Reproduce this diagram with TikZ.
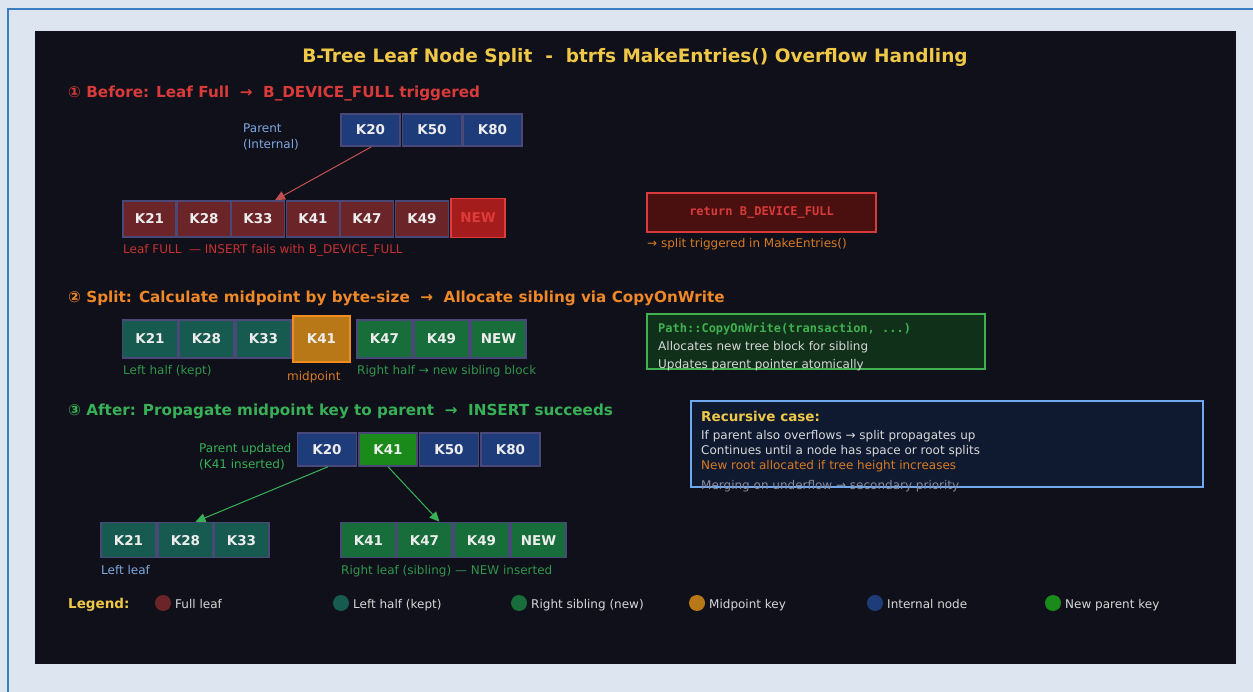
\documentclass[tikz,border=0pt]{standalone}
\usepackage{fontspec}
\setmainfont{DejaVu Sans}
\setmonofont{DejaVu Sans Mono}
\usetikzlibrary{arrows.meta}
\definecolor{bglight}{HTML}{DDE6F0}
\definecolor{frameblue}{HTML}{3A7EC0}
\definecolor{panel}{HTML}{0F1019}
\definecolor{titley}{HTML}{F0C848}
\definecolor{redh}{HTML}{D93A3A}
\definecolor{keyb}{HTML}{4A4878}
\definecolor{intfill}{HTML}{1F3C7A}
\definecolor{fullfill}{HTML}{6B2428}
\definecolor{newfill}{HTML}{A51C1C}
\definecolor{newbord}{HTML}{E03A3A}
\definecolor{tealfill}{HTML}{175A50}
\definecolor{rgreen}{HTML}{186E3A}
\definecolor{midfill}{HTML}{B87818}
\definecolor{midbord}{HTML}{F08C20}
\definecolor{npgreen}{HTML}{1A8A1A}
\definecolor{orangeh}{HTML}{F08828}
\definecolor{greenh}{HTML}{38B058}
\definecolor{lblue}{HTML}{80A8E0}
\definecolor{txtgray}{HTML}{D8D8D8}
\definecolor{dimgray}{HTML}{8A8A9A}
\definecolor{retfill}{HTML}{4A1010}
\definecolor{cowfill}{HTML}{10301A}
\definecolor{cowbord}{HTML}{40B050}
\definecolor{recfill}{HTML}{0F1A30}
\definecolor{recbord}{HTML}{70A8F0}
\definecolor{keytxt}{HTML}{EDEDED}
\definecolor{arrred}{HTML}{C05050}
\definecolor{lblred}{HTML}{C83232}
\begin{document}
\begin{tikzpicture}[x=1pt,y=-1pt,
  key/.style={draw=keyb, line width=1.5pt, inner sep=0pt, minimum width=#1, minimum height=34pt,
    text height=10pt, text depth=0pt,
    font=\fontsize{13.5}{15}\selectfont\bfseries, text=keytxt},
  key/.default=53pt,
  lbl/.style={anchor=west, inner sep=0pt, text height=11pt, text depth=1pt, font=\fontsize{12}{16}\selectfont},
  head/.style={anchor=west, inner sep=0pt, yshift=-2pt, font=\fontsize{15.2}{18}\selectfont\bfseries},
  link/.style={line width=1pt, -{Triangle[length=10pt,width=9pt]}},
  legdot/.style={circle, inner sep=0pt, minimum size=16pt}
]
\useasboundingbox (0,0) rectangle (1253,692);
\fill[bglight] (0,0) rectangle (1253,692);
\draw[frameblue, line width=2pt] (8,700) -- (8,9) -- (1260,9);
\fill[panel] (35,31) rectangle (1236,664);

\node[anchor=center, inner sep=0pt, text=titley, font=\fontsize{18.5}{22}\selectfont\bfseries] (title) at (635,57)
  {B-Tree Leaf Node Split\ \ -\ \ btrfs MakeEntries() Overflow Handling};

% ---------- Section 1 ----------
\node[head, text=redh] (h1) at (68,92) {① Before: Leaf Full\ \ →\ \ B\_DEVICE\_FULL triggered};
\node[lbl, text=lblue, align=left, text height=, text depth=] (par1lbl) at (243,137) {Parent\\(Internal)};
\node[key=59pt, minimum height=32pt, fill=intfill] (p1k20) at (370.5,130) {K20};
\node[key=59pt, minimum height=32pt, fill=intfill] (p1k50) at (432,130) {K50};
\node[key=59pt, minimum height=32pt, fill=intfill] (p1k80) at (492.5,130) {K80};

\node[key, minimum height=36pt, fill=fullfill] (a21) at (149.5,219) {K21};
\node[key, minimum height=36pt, fill=fullfill] (a28) at (204,219) {K28};
\node[key, minimum height=36pt, fill=fullfill] (a33) at (258,219) {K33};
\node[key, minimum height=36pt, fill=fullfill] (a41) at (313,219) {K41};
\node[key, minimum height=36pt, fill=fullfill] (a47) at (367,219) {K47};
\node[key, minimum height=36pt, fill=fullfill] (a49) at (422,219) {K49};
\node[key=54pt, minimum height=39pt, fill=newfill, draw=newbord, text=newbord] (anew) at (478,218) {NEW};
\draw[link, draw=arrred, fill=arrred] ([xshift=1pt]p1k20.south) -- ([xshift=17pt]a33.north);
\node[lbl, text=lblred] (l1) at (123,249) {Leaf FULL\ \ — INSERT fails with B\_DEVICE\_FULL};

\node[draw=redh, line width=1.5pt, fill=retfill, minimum width=229pt, minimum height=39pt, inner sep=0pt,
  text=redh, font=\ttfamily\fontsize{12}{14}\selectfont\bfseries] (ret) at (761.5,212.5) {return B\_DEVICE\_FULL};
\node[lbl, text=orangeh!90!black] (retnote) at (647,243) {→ split triggered in MakeEntries()};

% ---------- Section 2 ----------
\node[head, text=orangeh] (h2) at (68,296) {② Split: Calculate midpoint by byte-size\ \ →\ \ Allocate sibling via CopyOnWrite};
\node[key=55pt, minimum height=38pt, fill=tealfill] (b21) at (150,339) {K21};
\node[key=55pt, minimum height=38pt, fill=tealfill] (b28) at (206.5,339) {K28};
\node[key=55pt, minimum height=38pt, fill=tealfill] (b33) at (263.5,339) {K33};
\node[key=57pt, minimum height=46pt, fill=midfill, draw=midbord] (b41) at (321.5,339) {K41};
\node[key=55pt, minimum height=38pt, fill=rgreen] (b47) at (384.5,339) {K47};
\node[key=55pt, minimum height=38pt, fill=rgreen] (b49) at (441.5,339) {K49};
\node[key=55pt, minimum height=38pt, fill=rgreen] (bnew) at (498.5,339) {NEW};
\node[lbl, text=greenh!85!black] (l2a) at (123,370) {Left half (kept)};
\node[lbl, text=orangeh!90!black] (l2b) at (287,376) {midpoint};
\node[lbl, text=greenh!85!black] (l2c) at (357,370) {Right half → new sibling block};

\draw[cowbord, line width=1.5pt, fill=cowfill] (647,314) rectangle (985,369);
\node[lbl, text=cowbord, font=\ttfamily\fontsize{12}{14}\selectfont\bfseries] (cow1) at (658,328) {Path::CopyOnWrite(transaction, ...)};
\node[lbl, text=txtgray] (cow2) at (658,346) {Allocates new tree block for sibling};
\node[lbl, text=txtgray] (cow3) at (658,364) {Updates parent pointer atomically};

% ---------- Section 3 ----------
\node[head, text=greenh] (h3) at (68,409) {③ After: Propagate midpoint key to parent\ \ →\ \ INSERT succeeds};
\node[lbl, text=greenh, align=left, text height=, text depth=] (par3lbl) at (199,457) {Parent updated\\(K41 inserted)};
\node[key=59pt, minimum height=33pt, fill=intfill] (c20) at (327,449.5) {K20};
\node[key=58pt, minimum height=33pt, fill=npgreen] (c41) at (388,449.5) {K41};
\node[key=59pt, minimum height=33pt, fill=intfill] (c50) at (449,449.5) {K50};
\node[key=59pt, minimum height=33pt, fill=intfill] (c80) at (510.5,449.5) {K80};

\node[key=55pt, minimum height=35pt, fill=tealfill] (d21) at (128.5,540) {K21};
\node[key=55pt, minimum height=35pt, fill=tealfill] (d28) at (185.5,540) {K28};
\node[key=55pt, minimum height=35pt, fill=tealfill] (d33) at (241.5,540) {K33};
\node[key=55pt, minimum height=35pt, fill=rgreen] (e41) at (368.5,540) {K41};
\node[key=55pt, minimum height=35pt, fill=rgreen] (e47) at (424.5,540) {K47};
\node[key=55pt, minimum height=35pt, fill=rgreen] (e49) at (481.5,540) {K49};
\node[key=55pt, minimum height=35pt, fill=rgreen] (enew) at (538.5,540) {NEW};
\draw[link, draw=greenh, fill=greenh] ([xshift=1pt]c20.south) -- ([xshift=10pt]d28.north);
\draw[link, draw=greenh, fill=greenh] (c41.south) -- ([xshift=15pt]e47.north);
\node[lbl, text=lblue] (l3a) at (101,569) {Left leaf};
\node[lbl, text=greenh!85!black] (l3b) at (341,569) {Right leaf (sibling) — NEW inserted};

\draw[recbord, line width=1.5pt, fill=recfill] (691,401) rectangle (1203,487);
\node[lbl, text=titley, font=\fontsize{13.5}{16}\selectfont\bfseries] (rec0) at (701,416) {Recursive case:};
\node[lbl, text=txtgray] (rec1) at (701,434) {If parent also overflows → split propagates up};
\node[lbl, text=txtgray] (rec2) at (701,449) {Continues until a node has space or root splits};
\node[lbl, text=orangeh!90!black] (rec3) at (701,464) {New root allocated if tree height increases};
\node[lbl, text=dimgray] (rec4) at (701,484) {Merging on underflow → secondary priority};

% ---------- Legend ----------
\node[lbl, text=titley, font=\fontsize{13.5}{16}\selectfont\bfseries] (leg) at (68,603) {Legend:};
\node[legdot, fill=fullfill] (g1) at (163,603) {};
\node[lbl, text=txtgray] (g1t) at (175,603) {Full leaf};
\node[legdot, fill=tealfill] (g2) at (341,603) {};
\node[lbl, text=txtgray] (g2t) at (353,603) {Left half (kept)};
\node[legdot, fill=rgreen] (g3) at (519,603) {};
\node[lbl, text=txtgray] (g3t) at (531,603) {Right sibling (new)};
\node[legdot, fill=midfill] (g4) at (697,603) {};
\node[lbl, text=txtgray] (g4t) at (709,603) {Midpoint key};
\node[legdot, fill=intfill] (g5) at (875,603) {};
\node[lbl, text=txtgray] (g5t) at (887,603) {Internal node};
\node[legdot, fill=npgreen] (g6) at (1053,603) {};
\node[lbl, text=txtgray] (g6t) at (1065,603) {New parent key};
\end{tikzpicture}
\end{document}
